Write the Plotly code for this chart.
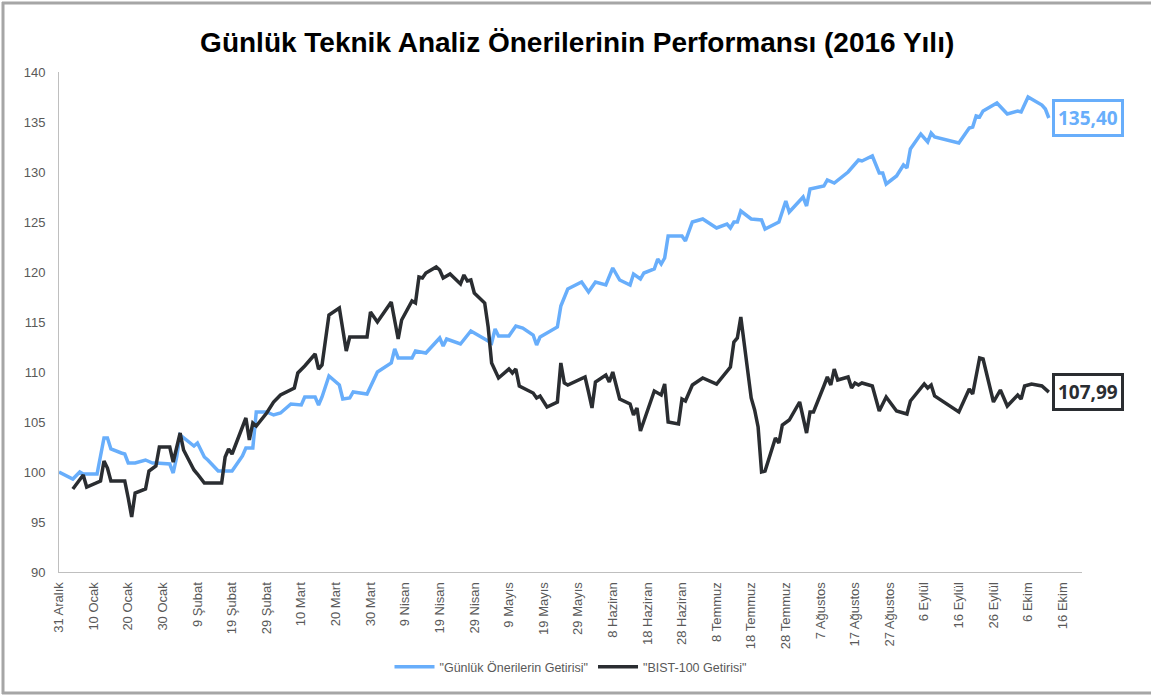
import plotly.graph_objects as go
import pandas as pd

# ---------------- data ----------------
oneri_dates = [
    "2015-12-31", "2016-01-04", "2016-01-06", "2016-01-07", "2016-01-11", "2016-01-13", "2016-01-14",
    "2016-01-15", "2016-01-18", "2016-01-19", "2016-01-20", "2016-01-22", "2016-01-25", "2016-01-27",
    "2016-01-28", "2016-02-01", "2016-02-02", "2016-02-03", "2016-02-04", "2016-02-08", "2016-02-09",
    "2016-02-11", "2016-02-12", "2016-02-15", "2016-02-19", "2016-02-22", "2016-02-23", "2016-02-25",
    "2016-02-26", "2016-02-29", "2016-03-02", "2016-03-04", "2016-03-07", "2016-03-10", "2016-03-11",
    "2016-03-14", "2016-03-15", "2016-03-16", "2016-03-18", "2016-03-21", "2016-03-22", "2016-03-24",
    "2016-03-25", "2016-03-28", "2016-03-29", "2016-04-01", "2016-04-04", "2016-04-05", "2016-04-06",
    "2016-04-07", "2016-04-11", "2016-04-12", "2016-04-15", "2016-04-19", "2016-04-20", "2016-04-21",
    "2016-04-25", "2016-04-28", "2016-05-02", "2016-05-04", "2016-05-05", "2016-05-06", "2016-05-09",
    "2016-05-11", "2016-05-13", "2016-05-16", "2016-05-17", "2016-05-18", "2016-05-20", "2016-05-23",
    "2016-05-24", "2016-05-26", "2016-05-30", "2016-06-01", "2016-06-03", "2016-06-06", "2016-06-08",
    "2016-06-10", "2016-06-13", "2016-06-14", "2016-06-16", "2016-06-17", "2016-06-20", "2016-06-21",
    "2016-06-22", "2016-06-23", "2016-06-24", "2016-06-28", "2016-06-29", "2016-07-01", "2016-07-04",
    "2016-07-08", "2016-07-11", "2016-07-12", "2016-07-13", "2016-07-14", "2016-07-15", "2016-07-18",
    "2016-07-21", "2016-07-22", "2016-07-26", "2016-07-28", "2016-07-29", "2016-08-02", "2016-08-03",
    "2016-08-04", "2016-08-08", "2016-08-09", "2016-08-11", "2016-08-15", "2016-08-18", "2016-08-19",
    "2016-08-22", "2016-08-24", "2016-08-25", "2016-08-26", "2016-08-29", "2016-08-31", "2016-09-01",
    "2016-09-02", "2016-09-05", "2016-09-07", "2016-09-08", "2016-09-09", "2016-09-16", "2016-09-19",
    "2016-09-20", "2016-09-21", "2016-09-22", "2016-09-23", "2016-09-27", "2016-09-30", "2016-10-03",
    "2016-10-04", "2016-10-06", "2016-10-10", "2016-10-11", "2016-10-12",
]
oneri_values = [
    100.0, 99.3, 100.0, 99.8, 99.8, 103.4, 103.4,
    102.3, 101.9, 101.8, 100.9, 100.9, 101.2, 100.9,
    100.9, 100.8, 99.9, 101.5, 103.7, 102.6, 102.9,
    101.5, 101.2, 100.1, 100.1, 101.6, 102.4, 102.4,
    106.0, 106.0, 105.7, 105.9, 106.8, 106.7, 107.5,
    107.5, 106.7, 107.5, 109.6, 108.7, 107.3, 107.4,
    108.0, 107.9, 107.8, 110.0, 110.7, 110.9, 112.3,
    111.4, 111.4, 112.1, 111.9, 113.4, 112.6, 113.3,
    112.8, 114.1, 113.3, 112.9, 114.3, 113.6, 113.6,
    114.6, 114.4, 113.7, 112.7, 113.5, 113.9, 114.5,
    116.6, 118.3, 119.0, 118.0, 119.0, 118.7, 120.4,
    119.2, 118.7, 119.8, 119.3, 119.9, 120.3, 121.3,
    120.8, 121.4, 123.6, 123.6, 123.1, 125.0, 125.3,
    124.4, 124.8, 124.4, 125.0, 125.0, 126.1, 125.3,
    125.2, 124.3, 125.0, 127.1, 126.0, 127.5, 126.6,
    128.3, 128.6, 129.2, 128.9, 130.0, 131.2, 131.1,
    131.6, 129.9, 129.9, 128.8, 129.6, 130.7, 130.4,
    132.3, 133.8, 133.0, 133.9, 133.5, 132.9, 134.4,
    134.5, 135.6, 135.5, 136.1, 136.9, 135.8, 136.1,
    136.0, 137.5, 136.7, 136.3, 135.40,
]

bist_dates = [
    "2016-01-04", "2016-01-06", "2016-01-07", "2016-01-08", "2016-01-12", "2016-01-13", "2016-01-14",
    "2016-01-15", "2016-01-19", "2016-01-20", "2016-01-21", "2016-01-22", "2016-01-25", "2016-01-26",
    "2016-01-28", "2016-01-29", "2016-02-01", "2016-02-02", "2016-02-04", "2016-02-05", "2016-02-08",
    "2016-02-09", "2016-02-11", "2016-02-16", "2016-02-17", "2016-02-18", "2016-02-19", "2016-02-23",
    "2016-02-24", "2016-02-25", "2016-02-26", "2016-02-29", "2016-03-02", "2016-03-04", "2016-03-08",
    "2016-03-09", "2016-03-11", "2016-03-14", "2016-03-15", "2016-03-16", "2016-03-18", "2016-03-21",
    "2016-03-23", "2016-03-24", "2016-03-29", "2016-03-30", "2016-04-01", "2016-04-05", "2016-04-07",
    "2016-04-08", "2016-04-11", "2016-04-12", "2016-04-13", "2016-04-14", "2016-04-15", "2016-04-18",
    "2016-04-19", "2016-04-20", "2016-04-22", "2016-04-25", "2016-04-26", "2016-04-27", "2016-04-28",
    "2016-04-29", "2016-05-02", "2016-05-03", "2016-05-04", "2016-05-06", "2016-05-09", "2016-05-10",
    "2016-05-11", "2016-05-12", "2016-05-16", "2016-05-17", "2016-05-18", "2016-05-20", "2016-05-23",
    "2016-05-24", "2016-05-25", "2016-05-26", "2016-05-31", "2016-06-01", "2016-06-02", "2016-06-03",
    "2016-06-06", "2016-06-07", "2016-06-08", "2016-06-10", "2016-06-13", "2016-06-14", "2016-06-15",
    "2016-06-16", "2016-06-20", "2016-06-22", "2016-06-23", "2016-06-24", "2016-06-27", "2016-06-28",
    "2016-06-29", "2016-07-01", "2016-07-04", "2016-07-08", "2016-07-11", "2016-07-12", "2016-07-13",
    "2016-07-14", "2016-07-15", "2016-07-18", "2016-07-19", "2016-07-20", "2016-07-21", "2016-07-22",
    "2016-07-25", "2016-07-26", "2016-07-27", "2016-07-29", "2016-08-01", "2016-08-03", "2016-08-04",
    "2016-08-05", "2016-08-08", "2016-08-09", "2016-08-10", "2016-08-11", "2016-08-12", "2016-08-15",
    "2016-08-16", "2016-08-17", "2016-08-18", "2016-08-19", "2016-08-22", "2016-08-24", "2016-08-26",
    "2016-08-29", "2016-09-01", "2016-09-02", "2016-09-06", "2016-09-07", "2016-09-08", "2016-09-09",
    "2016-09-16", "2016-09-19", "2016-09-20", "2016-09-22", "2016-09-23", "2016-09-26", "2016-09-28",
    "2016-09-30", "2016-10-03", "2016-10-04", "2016-10-05", "2016-10-07", "2016-10-10", "2016-10-12",
]
bist_values = [
    98.3, 99.3, 99.7, 98.5, 99.1, 101.1, 100.4,
    99.1, 99.1, 97.4, 95.5, 97.9, 98.3, 100.1,
    100.6, 102.5, 102.5, 101.0, 103.9, 102.2, 100.2,
    99.8, 98.9, 98.9, 101.5, 102.3, 101.8, 105.4,
    103.2, 104.9, 104.6, 105.9, 107.0, 107.7, 108.4,
    109.9, 110.6, 111.8, 110.3, 110.7, 115.7, 116.4,
    112.1, 113.5, 113.5, 116.0, 115.0, 117.0, 113.3,
    115.2, 117.1, 116.9, 119.5, 119.4, 119.9, 120.5,
    120.2, 119.4, 119.8, 118.8, 119.7, 119.1, 119.2,
    117.9, 116.9, 114.5, 110.9, 109.4, 110.3, 109.9,
    110.3, 108.6, 107.9, 107.4, 107.6, 106.5, 107.0,
    110.9, 108.9, 108.7, 109.5, 108.0, 106.4, 109.0,
    109.7, 109.0, 110.0, 107.3, 106.8, 105.7, 106.4,
    104.1, 108.1, 107.7, 108.8, 105.0, 104.8, 107.3,
    107.1, 108.7, 109.4, 108.8, 110.1, 110.5, 113.0,
    113.4, 115.5, 107.4, 106.2, 104.5, 100.0, 100.1,
    103.4, 102.9, 104.7, 105.2, 107.0, 103.9, 106.0,
    106.0, 108.6, 109.5, 108.7, 110.3, 109.2, 109.5,
    108.4, 108.9, 108.7, 108.9, 108.6, 106.1, 107.5,
    106.1, 105.8, 107.1, 108.8, 108.4, 108.7, 107.6,
    106.0, 108.3, 107.8, 111.4, 111.3, 107.0, 108.2,
    106.6, 107.7, 107.3, 108.6, 108.8, 108.6, 107.99,
]

series_names = ['"Günlük Önerilerin Getirisi"', '"BIST-100 Getirisi"']
end_labels = ["135,40", "107,99"]
x_tick_labels = [
    "31 Aralık", "10 Ocak", "20 Ocak", "30 Ocak", "9 Şubat", "19 Şubat", "29 Şubat",
    "10 Mart", "20 Mart", "30 Mart", "9 Nisan", "19 Nisan", "29 Nisan", "9 Mayıs",
    "19 Mayıs", "29 Mayıs", "8 Haziran", "18 Haziran", "28 Haziran", "8 Temmuz",
    "18 Temmuz", "28 Temmuz", "7 Ağustos", "17 Ağustos", "27 Ağustos", "6 Eylül",
    "16 Eylül", "26 Eylül", "6 Ekim", "16 Ekim",
]
y_ticks = [90, 95, 100, 105, 110, 115, 120, 125, 130, 135, 140]
title_text = "Günlük Teknik Analiz Önerilerinin Performansı (2016 Yılı)"

# ---------------- styling ----------------
BLUE = "#68AEFB"
DARK = "#2A2D31"
GREY_TXT = "#595959"
AXIS = "#BFBFBF"
NARROW = "Liberation Sans Narrow, Arial Narrow, Liberation Sans, Arial, sans-serif"

x_tick_vals = pd.date_range("2015-12-31", periods=len(x_tick_labels), freq="10D")

fig = go.Figure()
fig.add_trace(go.Scatter(x=oneri_dates, y=oneri_values, mode="lines", name=series_names[0],
                         line=dict(color=BLUE, width=3.5), hoverinfo="x+y"))
fig.add_trace(go.Scatter(x=bist_dates, y=bist_values, mode="lines", name=series_names[1],
                         line=dict(color=DARK, width=3.5), hoverinfo="x+y"))

# end-value boxes
for dates, vals, txt, col in [(oneri_dates, oneri_values, end_labels[0], BLUE),
                              (bist_dates, bist_values, end_labels[1], DARK)]:
    fig.add_annotation(x=dates[-1], y=vals[-1], text="<b>%s</b>" % txt, showarrow=False,
                       xanchor="left", yanchor="middle", xshift=3,
                       font=dict(family="Open Sans, Noto Sans, sans-serif", size=19, color=col),
                       bgcolor="white", bordercolor=col, borderwidth=3, borderpad=3)

W, H = 1151, 695
L, R, T, B = 59, 69, 72, 123
pw, ph = W - L - R, H - T - B


def px_x(p):
    return (p - L) / pw


def px_y(p):
    return (H - B - p) / ph


# outer frame (left, top, bottom visible; right edge cut off as in the reference)
frame_col = "#A6A6A6"
fig.add_shape(type="rect", xref="paper", yref="paper", x0=px_x(1138), x1=px_x(1151),
              y0=px_y(6), y1=px_y(690), fillcolor="white", line=dict(width=0), layer="above")
fig.add_shape(type="line", xref="paper", yref="paper", x0=px_x(3), x1=px_x(3), y0=px_y(2), y1=px_y(694),
              line=dict(color=frame_col, width=3))
fig.add_shape(type="line", xref="paper", yref="paper", x0=px_x(2), x1=px_x(1151), y0=px_y(3), y1=px_y(3),
              line=dict(color=frame_col, width=3))
fig.add_shape(type="line", xref="paper", yref="paper", x0=px_x(2), x1=px_x(1151), y0=px_y(693), y1=px_y(693),
              line=dict(color=frame_col, width=3))

fig.update_layout(
    width=W, height=H,
    margin=dict(l=L, r=R, t=T, b=B, pad=0),
    paper_bgcolor="white", plot_bgcolor="white",
    title=dict(text="<b>%s</b>" % title_text, x=px_x(572), xanchor="center",
               y=(H - 42) / H, yanchor="middle", yref="container",
               font=dict(family="Liberation Sans Narrow, Arial Narrow, Liberation Sans, sans-serif",
                         size=28, color="black")),
    showlegend=True,
    legend=dict(orientation="h", x=0.5, xanchor="center", y=px_y(667), yanchor="middle",
                font=dict(family=NARROW, size=12.5, color=GREY_TXT), itemwidth=40,
                bgcolor="rgba(0,0,0,0)"),
    xaxis=dict(type="date", range=["2015-12-31", "2016-10-21 14:00"],
               tickmode="array", tickvals=list(x_tick_vals), ticktext=x_tick_labels,
               tickangle=-90, tickfont=dict(family=NARROW, size=13, color=GREY_TXT),
               showgrid=False, zeroline=False, showline=True, linecolor=AXIS, linewidth=1,
               ticks="", ticklabelstandoff=4),
    yaxis=dict(range=[90, 140], tickmode="array", tickvals=y_ticks,
               tickfont=dict(family=NARROW, size=13, color=GREY_TXT),
               showgrid=False, zeroline=False, showline=True, linecolor=AXIS, linewidth=1,
               ticks="", ticklabelstandoff=10),
)

fig.write_html("out.html", config={"displayModeBar": False},
               post_script="document.body.style.margin='0';document.body.style.overflow='hidden';")
